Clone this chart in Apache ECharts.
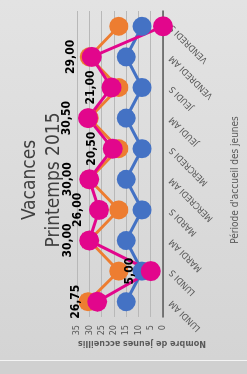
<!DOCTYPE html>
<html>
<head>
<meta charset="utf-8">
<script src="https://cdn.jsdelivr.net/npm/echarts@6/dist/echarts.min.js"></script>
<style>
	html,body{margin:0;padding:0;width:247px;height:374px;overflow:hidden;background:#d0d0d0;}
	#card{position:absolute;left:0;top:0;width:247px;height:360px;border-bottom:1px solid #f4f4f4;
		background:linear-gradient(to bottom,#e3e3e3,#d4d4d4);}
	#chart{position:absolute;left:0;top:360px;width:360px;height:247px;
		transform-origin:0 0;transform:rotate(-90deg);}
</style>
</head>
<body>
<div id="card"></div>
<div id="chart"></div>
<script>
var periodes=['LUNDI AM','LUNDI S','MARDI AM','MARDI S','MERCREDI AM','MERCREDI S','JEUDI AM','JEUDI S','VENDREDI AM','VENDREDI S'];
var serieBleue=[15, 8.5, 15, 8.5, 15, 8.5, 15, 8.5, 15, 8.5];
var serieOrange=[30.5, 18, 30, 18, 30, 18, 30, 18, 30, 18];
var serieRose=[26.75, 5, 30, 26, 30, 20.5, 30.5, 21, 29, 0];
var ticksValeur=[0,5,10,15,20,25,30,35];

var chartColor=['#4472C4','#ED7D31','#E2068C'];
var police="'Liberation Sans Narrow','DejaVu Sans Condensed',sans-serif";

var chartObj=echarts.init(document.getElementById('chart'));
var option = {
	color:chartColor,
	animation:false,
	title : {
		text: 'Vacances\nPrintemps 2015',
		left:'center',
		top:13,
		padding:[5,0,5,12],
		textStyle : {
			color : '#404040',
			fontFamily:police,
			fontWeight:'normal',
			fontSize:19,
			lineHeight:24
		},
	},
	grid:{left:43,right:11,top:77,bottom:84},
	xAxis : [
		{
			type : 'category',
			boundaryGap:true,
			axisLine:{lineStyle:{color:'#595959',width:1.5}},
			axisTick:{show:false},
			axisLabel : {
				rotate:45,
				margin:8,
				color:'#595959',
				fontFamily:police,
				fontSize:9
			},
			data : periodes
		}
	],
	yAxis : [
		{
			type : 'value',
			min:ticksValeur[0],
			max:ticksValeur[ticksValeur.length-1],
			interval:5,
			axisLine:{show:false},
			axisTick:{show:false},
			splitLine:{lineStyle:{color:'#b8b8b8'}},
			axisLabel : {
				margin:8,
				color:'#595959',
				fontFamily:police,
				fontSize:9
			},
		}
	],
	graphic:[
		{type:'text',x:17,y:142,rotation:Math.PI/2,
			style:{text:'Nombre de jeunes accueillis',fill:'#595959',font:'bold 9px '+police,textAlign:'center',textVerticalAlign:'middle'}},
		{type:'text',x:180,y:235,
			style:{text:"Période d'accueil des jeunes",fill:'#595959',font:'10px '+police,textAlign:'center',textVerticalAlign:'middle'}}
	],
	series : [
		{
			name:'Bleu',
			type:'line',
			symbol:'circle',
			symbolSize:19,
			lineStyle:{width:3},
			data:serieBleue
		},
		{
			name:'Orange',
			type:'line',
			symbol:'circle',
			symbolSize:19,
			lineStyle:{width:3},
			data:serieOrange
		},
		{
			name:'Rose',
			type:'line',
			symbol:'circle',
			symbolSize:20,
			lineStyle:{width:3},
			label:{
				show:true,
				position:'top',
				distance:5,
				color:'#000',
				fontFamily:police,
				fontWeight:'bold',
				fontSize:12,
				formatter:function(p){ return p.value ? p.value.toFixed(2).replace('.',',') : ''; }
			},
			data:serieRose
		}
	]
};
chartObj.setOption(option);
</script>
</body>
</html>
